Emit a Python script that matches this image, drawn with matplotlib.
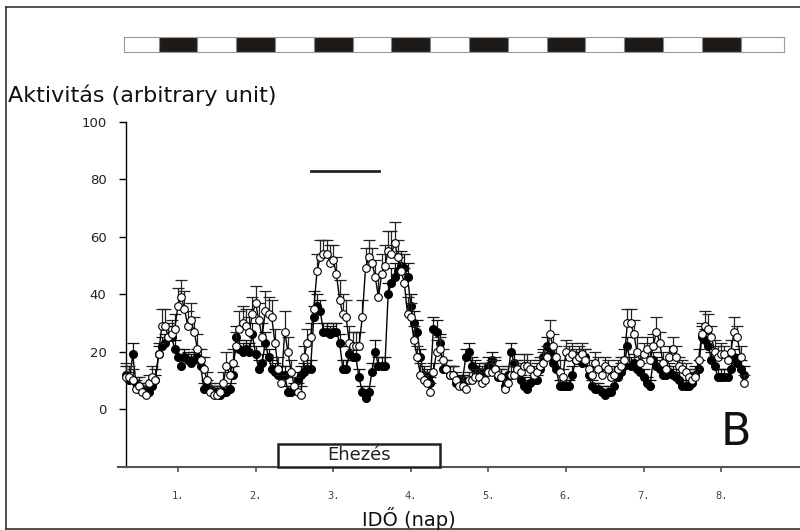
import numpy as np
import matplotlib.pyplot as plt
from matplotlib.patches import Rectangle
from matplotlib.lines import Line2D

# hourly values, first sample at 8:00 of day 0
start_hour = 8

open_vals = [11, 11, 10, 7, 8, 6, 5, 9, 11, 10, 19, 29, 29, 25, 26, 28, 36, 39, 35, 29, 31, 27, 21, 17,
             14, 10, 6, 5, 5, 6, 9, 15, 12, 16, 22, 28, 30, 29, 27, 33, 37, 31, 25, 34, 33, 32, 23, 14,
             9, 27, 20, 13, 8, 6, 5, 18, 23, 25, 35, 48, 53, 54, 54, 51, 52, 47, 38, 33, 32, 23, 22, 22,
             22, 32, 49, 53, 51, 46, 39, 47, 50, 55, 54, 58, 53, 48, 44, 33, 32, 24, 18, 12, 10, 9, 6, 13,
             20, 21, 17, 14, 12, 12, 10, 8, 8, 7, 10, 10, 11, 11, 9, 10, 13, 13, 14, 12, 11, 7, 9, 12,
             12, 14, 13, 15, 15, 14, 12, 13, 15, 16, 18, 26, 22, 18, 13, 11, 20, 18, 19, 17, 18, 19, 17, 14,
             12, 16, 14, 12, 15, 14, 11, 12, 14, 15, 17, 30, 30, 26, 20, 16, 19, 21, 17, 22, 27, 23, 16, 14,
             18, 21, 18, 15, 14, 13, 11, 10, 11, 17, 26, 29, 28, 25, 20, 18, 19, 19, 17, 20, 27, 25, 18, 9]
open_err = [5, 4, 4, 3, 3, 3, 3, 3, 4, 4, 4, 6, 6, 5, 5, 5, 6, 6, 6, 5, 6, 5, 5, 4,
            4, 3, 3, 3, 3, 3, 4, 5, 4, 5, 5, 6, 6, 6, 5, 6, 6, 6, 5, 7, 6, 6, 5, 4,
            3, 7, 5, 4, 3, 3, 3, 4, 5, 5, 6, 6, 6, 5, 5, 6, 5, 6, 7, 7, 6, 6, 5, 5,
            5, 6, 7, 6, 5, 6, 7, 7, 7, 7, 8, 7, 6, 6, 5, 6, 5, 5, 4, 4, 3, 3, 3, 3,
            4, 4, 4, 3, 3, 3, 3, 3, 3, 3, 3, 3, 3, 3, 3, 3, 3, 4, 4, 3, 3, 3, 3, 3,
            3, 3, 3, 4, 4, 3, 3, 3, 3, 4, 4, 5, 4, 4, 4, 3, 4, 4, 4, 4, 4, 4, 4, 3,
            3, 4, 4, 3, 3, 3, 3, 3, 3, 3, 4, 5, 5, 5, 5, 4, 4, 4, 4, 4, 5, 4, 4, 3,
            4, 4, 4, 3, 3, 3, 3, 3, 3, 4, 4, 5, 5, 4, 4, 4, 4, 3, 3, 4, 5, 4, 4, 3]

black_vals = [12, 10, 19, 9, 7, 7, 6, 6, 8, 10, 19, 22, 23, 25, 25, 21, 18, 15, 18, 17, 16, 17, 18, 15,
              7, 8, 7, 6, 6, 5, 6, 6, 7, 12, 25, 21, 20, 21, 20, 26, 19, 14, 16, 23, 18, 14, 13, 12,
              12, 12, 6, 6, 7, 10, 12, 13, 14, 14, 32, 36, 34, 27, 27, 26, 27, 27, 23, 14, 14, 19, 18, 18,
              11, 6, 4, 6, 13, 20, 15, 15, 15, 40, 44, 46, 48, 50, 49, 46, 36, 30, 27, 18, 12, 11, 9, 28,
              27, 23, 14, 14, 12, 12, 9, 10, 10, 18, 20, 15, 14, 13, 12, 13, 15, 17, 14, 11, 11, 8, 12, 20,
              16, 14, 10, 8, 7, 9, 10, 10, 14, 18, 22, 19, 16, 14, 8, 8, 8, 8, 12, 17, 17, 16, 18, 12,
              8, 7, 7, 6, 5, 6, 6, 8, 11, 13, 15, 22, 15, 16, 14, 13, 11, 9, 8, 17, 15, 14, 12, 12,
              13, 12, 11, 10, 8, 8, 8, 9, 12, 14, 25, 24, 22, 17, 15, 11, 11, 11, 11, 14, 18, 16, 14, 12]
black_err = [3, 3, 4, 2, 2, 2, 2, 2, 2, 2, 3, 3, 3, 4, 4, 3, 3, 3, 3, 3, 3, 3, 3, 3,
             2, 2, 2, 2, 2, 2, 2, 2, 2, 3, 4, 3, 3, 3, 3, 4, 3, 3, 3, 4, 3, 3, 3, 3,
             3, 3, 2, 2, 2, 3, 3, 3, 3, 3, 4, 4, 4, 3, 3, 3, 3, 3, 3, 3, 3, 3, 3, 3,
             3, 2, 2, 2, 3, 4, 3, 3, 3, 4, 5, 5, 5, 5, 5, 5, 4, 4, 4, 3, 3, 3, 2, 4,
             4, 3, 3, 3, 3, 3, 2, 2, 2, 3, 3, 3, 3, 3, 3, 3, 3, 3, 3, 3, 3, 2, 3, 3,
             3, 3, 2, 2, 2, 2, 2, 2, 3, 3, 3, 3, 3, 3, 2, 2, 2, 2, 3, 3, 3, 3, 3, 3,
             2, 2, 2, 2, 2, 2, 2, 2, 3, 3, 3, 3, 3, 3, 3, 3, 3, 2, 2, 3, 3, 3, 3, 3,
             3, 3, 3, 3, 2, 2, 2, 2, 3, 3, 4, 4, 4, 3, 3, 3, 3, 3, 3, 3, 3, 3, 3, 3]

days = [1, 2, 3, 4, 5, 6, 7, 8]
day_labels = ['1.', '2.', '3.', '4.', '5.', '6.', '7.', '8.']
yticks = [0, 20, 40, 60, 80, 100]
fast_start, fast_end = 2.29, 4.38      # Éhezés
line_start, line_end, line_y = 2.71, 3.59, 83

t = (start_hour + np.arange(len(open_vals))) / 24.0
ov, oe = np.array(open_vals, float), np.array(open_err, float)
bv, be = np.array(black_vals, float), np.array(black_err, float)

W, H = 800, 530
def fx(px): return px / W
def fy(py): return 1 - py / H

plt.rcParams['font.family'] = ['DejaVu Sans']
fig = plt.figure(figsize=(8, 5.3), dpi=100)

# keret
for xs, ys in [([6, 800], [7, 7]), ([6, 6], [7, 529]), ([6, 800], [529, 529])]:
    fig.add_artist(Line2D([fx(x) for x in xs], [fy(y) for y in ys], color='#333333', lw=1.2))

ax = fig.add_axes([fx(118), fy(467), fx(800) - fx(118), fy(122) - fy(467)])
ax.set_xlim(0.227, 9.016)
ax.set_ylim(-20.2, 100)

# fekete pontok
ax.vlines(t, bv, bv + be, color='#111111', lw=0.9, zorder=2)
ax.plot(t, bv + be, ls='none', marker='_', ms=9, mew=0.9, color='#111111', zorder=2)
ax.plot(t, bv, '-o', color='black', lw=1, ms=5.5, mfc='black', mec='black', zorder=3)
# üres pontok
ax.vlines(t, ov, ov + oe, color='#222222', lw=0.9, zorder=4)
ax.plot(t, ov + oe, ls='none', marker='_', ms=9, mew=0.9, color='#222222', zorder=4)
ax.plot(t, ov, '-o', color='black', lw=1, ms=5.5, mfc='white', mec='black', mew=0.8, zorder=5)

ax.plot([line_start, line_end], [line_y, line_y], color='#222222', lw=2)

ax.add_patch(Rectangle((fast_start, -20.2), fast_end - fast_start, 8, fill=True, fc='white',
                       ec='#222222', lw=1.8, zorder=6, clip_on=False))
ax.text((fast_start + fast_end) / 2, -16.0, 'Éhezés', ha='center', va='center', fontsize=13,
        color='#222222', zorder=7)

for s in ['top', 'right']:
    ax.spines[s].set_visible(False)
ax.spines['left'].set_position(('data', 0.33))
ax.spines['left'].set_linewidth(1.0)
ax.spines['bottom'].set_color('#555555')
ax.spines['bottom'].set_linewidth(1.5)

ax.set_yticks(yticks)
ax.tick_params(axis='y', direction='out', length=5, width=1, pad=9, labelsize=9.5, labelcolor='#222222')
ax.set_xticks(days)
ax.set_xticklabels(day_labels, family='DejaVu Sans Mono')
ax.tick_params(axis='x', direction='out', length=3.5, width=1.2, color='#555555', pad=14,
               labelsize=7.5, labelcolor='#444444')

# fény-sötét sáv
bar = fig.add_axes([fx(124), fy(52), fx(784) - fx(124), fy(37) - fy(52)])
bar.set_xlim(0.304, 8.809)
bar.set_ylim(0, 1)
for d in days:
    bar.add_patch(Rectangle((d - 0.25, 0), 0.5, 1, fc='#1e1a17', ec='#888888', lw=0.8))
bar.set_xticks([])
bar.set_yticks([])
for s in bar.spines.values():
    s.set_color('#999999')

fig.text(fx(8), fy(95), 'Aktivitás (arbitrary unit)', ha='left', va='center', fontsize=16, color='#111111')
fig.text(fx(409), fy(519), 'IDŐ (nap)', ha='center', va='center', fontsize=14, color='#111111')
fig.text(fx(721), fy(445), 'B', ha='left', va='baseline', fontsize=32, color='#111111')

fig.savefig('out.png', dpi=100)
